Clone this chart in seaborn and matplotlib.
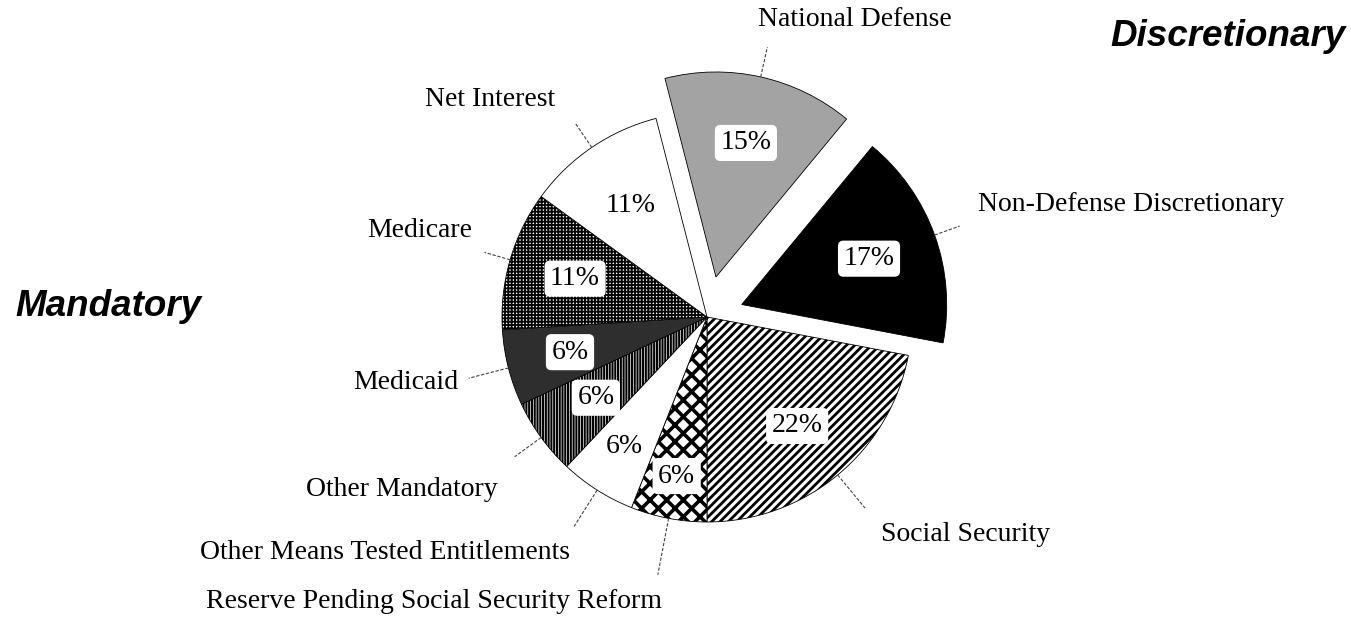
import numpy as np
import seaborn as sns
import matplotlib.pyplot as plt

# budget shares, clockwise from National Defense
categories = ['National Defense', 'Non-Defense Discretionary', 'Social Security',
              'Reserve Pending Social Security Reform', 'Other Means Tested Entitlements',
              'Other Mandatory', 'Medicaid', 'Medicare', 'Net Interest']
shares = [15, 17, 22, 6, 6, 6, 6, 11, 11]
group_titles = ['Mandatory', 'Discretionary']

# styling per slice
explode = [0.2, 0.18, 0, 0, 0, 0, 0, 0, 0]
faces = ['#a3a3a3', 'black', 'white', 'white', 'white', 'white', '#2e2e2e', 'white', 'white']
hatches = [None, None, '////', 'xx', None, '||||||', None, '+++++', None]
hatch_lw = [1, 1, 2.0, 2.6, 1, 1.5, 1, 1.3, 1]
pct_dist = [0.67, 0.66, 0.69, 0.79, 0.75, 0.67, 0.69, 0.67, 0.66]
lead_r = [1.15, 1.13, 1.21, 1.28, 1.21, 1.16, 1.2, 1.13, 1.14]
# label centres in pie-radius units
label_xy = [(0.72, 1.45), (2.07, 0.55), (1.26, -1.06), (-1.33, -1.39), (-1.57, -1.15),
            (-1.49, -0.84), (-1.47, -0.32), (-1.40, 0.42), (-1.06, 1.06)]

sns.set_theme(style='white')
plt.rcParams['font.family'] = ['Liberation Serif', 'DejaVu Serif']
plt.rcParams['text.color'] = 'black'

fig = plt.figure(figsize=(13.51, 6.17), dpi=100)
ax = fig.add_axes([0, 0, 1, 1])

wedges, _ = ax.pie(shares, startangle=104.4, counterclock=False, explode=explode,
                   wedgeprops=dict(edgecolor='black', linewidth=0.6))

for i, w in enumerate(wedges):
    w.set_facecolor(faces[i])
    if hatches[i]:
        w.set_hatch(hatches[i])
        if hasattr(w, 'set_hatch_linewidth'):
            w.set_hatch_linewidth(hatch_lw[i])
    mid = np.deg2rad((w.theta1 + w.theta2) / 2)
    cx, cy = w.center
    d = pct_dist[i]
    ax.text(cx + d * np.cos(mid), cy + d * np.sin(mid), f'{shares[i]}%',
            ha='center', va='center', fontsize=20,
            bbox=dict(boxstyle='round,pad=0.2', fc='white', ec='none'))
    # leader line
    r2 = lead_r[i]
    ax.plot([cx + np.cos(mid), cx + r2 * np.cos(mid)],
            [cy + np.sin(mid), cy + r2 * np.sin(mid)],
            color='#444444', lw=0.8, ls=(0, (3, 1.5)))
    ax.text(label_xy[i][0], label_xy[i][1], categories[i], ha='center', va='center',
            fontsize=20)

ax.text(-2.92, 0.05, group_titles[0], ha='center', va='center', fontsize=26.5,
        fontweight='bold', fontstyle='italic', family=['Liberation Sans', 'DejaVu Sans'])
ax.text(2.54, 1.37, group_titles[1], ha='center', va='center', fontsize=26.5,
        fontweight='bold', fontstyle='italic', family=['Liberation Sans', 'DejaVu Sans'])

ax.set_aspect('auto')
ax.set_xlim(-707 / 205, (1351 - 707) / 205)
ax.set_ylim(-(617 - 317) / 205, 317 / 205)
ax.axis('off')

fig.savefig('out.png', dpi=100, facecolor='white')
